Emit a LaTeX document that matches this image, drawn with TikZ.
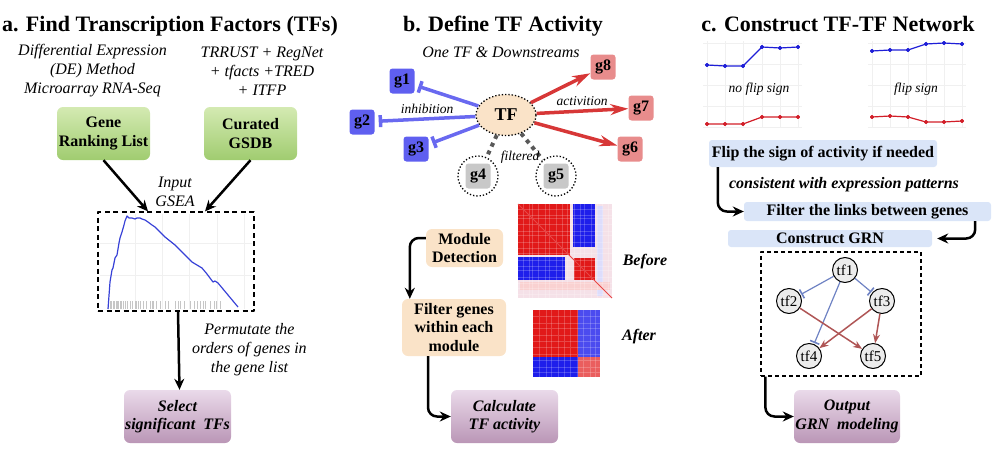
\documentclass[tikz,border=0pt]{standalone}
\usepackage{fontspec}
\setmainfont{Liberation Serif}
\usetikzlibrary{arrows.meta,shapes.geometric}
\definecolor{grtop}{RGB}{212,234,178}
\definecolor{grbot}{RGB}{160,204,112}
\definecolor{putop}{RGB}{234,218,234}
\definecolor{pubot}{RGB}{186,150,182}
\definecolor{peach}{RGB}{250,227,200}
\definecolor{sky}{RGB}{218,229,248}
\definecolor{genebl}{RGB}{95,95,240}
\definecolor{inblue}{RGB}{105,105,240}
\definecolor{genered}{RGB}{232,140,140}
\definecolor{acred}{RGB}{215,55,55}
\definecolor{genegr}{RGB}{200,200,200}
\definecolor{grnblue}{RGB}{110,130,195}
\definecolor{grnred}{RGB}{175,85,85}
\definecolor{plotblue}{RGB}{30,30,215}
\definecolor{plotred}{RGB}{210,30,40}
\definecolor{gseablue}{RGB}{55,65,215}
\definecolor{hmred}{RGB}{225,25,25}
\definecolor{hmblue}{RGB}{30,30,235}
\definecolor{hmpale}{RGB}{245,225,232}
\newcommand\titlefont{\fontsize{22}{26}\selectfont\bfseries}
\newcommand\boxfont{\fontsize{16}{18.5}\selectfont\bfseries}
\newcommand\notefont{\fontsize{16}{19}\selectfont\itshape}
\newcommand\smallnote{\fontsize{13.5}{16}\selectfont\itshape}
\begin{document}
\begin{tikzpicture}[x=1pt,y=-1pt,line join=round,
  title/.style={font=\titlefont,anchor=base},
  note/.style={font=\notefont,align=center},
  label/.style={font=\smallnote},
  greenbox/.style={rounded corners=6pt,top color=grtop,bottom color=grbot,font=\boxfont,align=center,minimum width=93pt,minimum height=53pt,inner sep=0pt},
  purplebox/.style={rounded corners=6pt,top color=putop,bottom color=pubot,font=\boxfont\itshape,align=center,minimum width=107pt,minimum height=53pt,inner sep=0pt},
  peachbox/.style={rounded corners=6pt,fill=peach,font=\boxfont,align=center,inner sep=0pt},
  skybox/.style={rounded corners=3pt,fill=sky,font=\boxfont,inner sep=0pt},
  flow/.style={-{Stealth[length=11pt,width=10pt]},line width=2.5pt,rounded corners=9pt},
  gene/.style={rounded corners=3pt,minimum size=25pt,inner sep=0pt,font=\boxfont},
  inhib/.style={-{Bar[width=12pt]},line width=3.5pt,draw=inblue,shorten >=4pt},
  activ/.style={-{Stealth[length=18pt,width=11pt]},line width=3.5pt,draw=acred},
  drop/.style={line width=4pt,draw=gray!70!black,dash pattern=on 4pt off 4.5pt},
  tfnode/.style={circle,draw,line width=1pt,fill=gray!15,minimum size=25pt,inner sep=0pt,font=\fontsize{15}{15}\selectfont},
  rep/.style={-{Bar[width=10pt,line width=1.6pt]},line width=1.2pt,draw=grnblue,shorten >=1pt},
  act/.style={-{Stealth[length=9pt,width=7pt]},line width=1.5pt,draw=grnred},
  gridline/.style={draw=gray!12,line width=0.6pt},
  plaid/.style={draw=white,opacity=0.2,line width=0.7pt}]
\useasboundingbox (0,0) rectangle (1006,466);

% a. find transcription factors
\node[title] (tta) at (170,31) {a. Find Transcription Factors (TFs)};
\node[note] (srcde) at (92.5,71) {Differential Expression\\(DE) Method\\Microarray RNA-Seq};
\node[note] (srcdb) at (262,71) {TRRUST + RegNet\\+ tfacts +TRED\\+ ITFP};
\node[greenbox] (rank) at (103.5,133.5) {Gene\\Ranking List};
\node[greenbox] (gsdb) at (250.5,133.5) {Curated\\GSDB};
\node[note] (input) at (175,192) {Input\\GSEA};
\foreach \x in {135,162,189,217,244} \draw[gridline] (\x,214) -- (\x,309);
\foreach \y in {243,275} \draw[gridline] (100,\y) -- (252,\y);
\foreach \x in {108,110,111,113,114,116,117,118,120,121,123,125,127,130,132,135,136,138,140,143,146,150,152,153,156,160,165,168,175,178,180,184,190,194,197,200,203,205,210,214,216,220}
  \draw[gray!45,line width=0.4pt] (\x,301) -- (\x,309);
\draw[gseablue,line width=1.2pt] plot coordinates {(108,309) (110,282) (112,270) (113,268) (115,258) (117,255) (119,243) (120,238) (122,232) (124,225) (125,221) (127,216) (129,218) (132,218) (135,219) (137,218) (140,218) (142,219) (145,220) (148,222) (152,225) (155,227) (160,232) (165,237) (170,241) (175,245) (179,249) (182,252) (187,257) (192,262) (197,265) (202,268) (207,274) (213,282) (215,281) (218,283) (228,295) (238,307)};
\node[draw,dash pattern=on 5pt off 3.5pt,line width=1.2pt,minimum width=156pt,minimum height=99pt,inner sep=0pt] (gsea) at (176,261.5) {};
\node[note] (perm) at (249.5,350) {Permutate the\\orders of genes in\\the gene list};
\node[purplebox] (select) at (177.5,416.5) {Select\\significant\ \ TFs};
\draw[flow] (rank.south) -- ([xshift=-28pt]gsea.north);
\draw[flow] (gsdb.south) -- ([xshift=29pt]gsea.north);
\draw[flow] ([xshift=2pt]gsea.south) -- ([xshift=2pt]select.north);

% b. define tf activity
\node[title] (ttb) at (503,31) {b. Define TF Activity};
\node[note] (down) at (501,52) {One TF \& Downstreams};
\node[ellipse,draw,dotted,line width=1.3pt,fill=peach,minimum width=60pt,minimum height=41pt,inner sep=0pt,font=\fontsize{18}{18}\selectfont\bfseries] (tf) at (506,115) {TF};
\node[gene,fill=genebl] (g1) at (402,81) {g1};
\node[gene,fill=genebl] (g2) at (362,122) {g2};
\node[gene,fill=genebl] (g3) at (416,149) {g3};
\node[gene,fill=genegr] (g4) at (478,176) {g4};
\node[gene,fill=genegr] (g5) at (556,176) {g5};
\node[gene,fill=genered] (g6) at (630,149) {g6};
\node[gene,fill=genered] (g7) at (641,108) {g7};
\node[gene,fill=genered] (g8) at (603,67) {g8};
\node[circle,draw,dotted,line width=1.3pt,minimum size=40pt] (c4) at (478,176) {};
\node[circle,draw,dotted,line width=1.3pt,minimum size=40pt] (c5) at (556,176) {};
\draw[inhib] (tf) -- (g1);
\draw[inhib] (tf) -- (g2);
\draw[inhib] (tf) -- (g3);
\draw[activ] (tf) -- (g8);
\draw[activ] (tf) -- (g7);
\draw[activ] (tf) -- (g6);
\draw[drop] (tf) -- (c4);
\draw[drop] (tf) -- (c5);
\node[label] (inh) at (427,109) {inhibition};
\node[label] (act) at (582,101) {activition};
\node[label] (filt) at (520,157) {filtered};
% heatmaps
\fill[hmpale] (518,204) rectangle (612,298);
\fill[hmred] (518,204) rectangle (570,255);
\fill[hmblue] (573,204) rectangle (595,247);
\fill[hmblue] (518,257) rectangle (565,280);
\fill[hmred] (574,258) rectangle (595,280);
\fill[hmblue!15] (597,206) rectangle (603,296);
\fill[hmred!20] (520,282) rectangle (610,290);
\foreach \t in {5,11,14,20,27,31,38,44,49,56,62,66,73,79,84,90}
  \draw[plaid] (518+\t,204) -- (518+\t,298) (518,204+\t) -- (612,204+\t);
\draw[hmred!80,line width=0.8pt] (518,204) -- (612,298);
\fill[hmred] (533,310) rectangle (578,357);
\fill[hmblue!80] (578,310) rectangle (600,357);
\fill[hmblue] (533,357) rectangle (578,377);
\fill[hmred!70] (578,357) rectangle (600,377);
\foreach \t in {6,13,18,25,31,37,44,50,57,62}
  \draw[plaid] (533+\t,310) -- (533+\t,377) (533,310+\t) -- (600,310+\t);
\node[font=\boxfont\itshape] (before) at (645,262) {Before};
\node[font=\boxfont\itshape] (after) at (639,337) {After};
\node[peachbox,minimum width=77pt,minimum height=38pt] (md) at (464.5,248) {Module\\Detection};
\node[peachbox,minimum width=104pt,minimum height=57pt] (fg) at (454,327.5) {Filter genes\\within each\\module};
\node[purplebox] (calc) at (504.5,416.5) {Calculate\\TF activity};
\draw[flow] ([yshift=10pt]md.west) -| ([xshift=8pt]fg.north west);
\draw[flow] ([xshift=-26pt]fg.south) |- (calc.west);

% c. construct tf-tf network
\node[title] (ttc) at (838,31) {c. Construct TF-TF Network};
\foreach \x in {707,725,743,762,780,798,872,890,908,926,944,962} \draw[gridline] (\x,41) -- (\x,128);
\foreach \y in {43,64,85,106,127} {
  \draw[gridline] (703,\y) -- (802,\y);
  \draw[gridline] (868,\y) -- (966,\y);
}
\draw[plotblue,line width=1.2pt] plot[mark=*,mark size=1.5pt] coordinates {(707,65) (725,66) (743,66) (762,47) (780,48) (798,47)};
\draw[plotred,line width=1.2pt] plot[mark=*,mark size=1.5pt] coordinates {(707,124) (725,124) (743,124) (762,117) (780,117) (798,117)};
\draw[plotblue,line width=1.2pt] plot[mark=*,mark size=1.5pt] coordinates {(872,51) (890,50) (908,50) (926,44) (944,43) (962,44)};
\draw[plotred,line width=1.2pt] plot[mark=*,mark size=1.5pt] coordinates {(872,117) (890,116) (908,117) (926,122) (944,122) (962,121)};
\node[label] (noflip) at (759,89) {no flip sign};
\node[label] (flip) at (916,89) {flip sign};
\node[skybox,minimum width=228pt,minimum height=27pt] (fs) at (823,153.5) {Flip the sign of activity if needed};
\node[font=\boxfont\itshape] (cons) at (844,185) {consistent with expression patterns};
\node[skybox,minimum width=247pt,minimum height=19pt] (fl) at (867.5,211.5) {Filter the links between genes};
\node[skybox,minimum width=204pt,minimum height=17pt] (cg) at (830,238.5) {Construct GRN};
\node[draw,dash pattern=on 4pt off 3pt,line width=1.2pt,minimum width=160pt,minimum height=124pt,inner sep=0pt] (grn) at (841,314) {};
\node[tfnode] (t1) at (845,270) {tf1};
\node[tfnode] (t2) at (789,301) {tf2};
\node[tfnode] (t3) at (882,301) {tf3};
\node[tfnode] (t4) at (809,356) {tf4};
\node[tfnode] (t5) at (873,356) {tf5};
\draw[rep] (t1) -- (t2);
\draw[rep] (t1) -- (t3);
\draw[rep] (t1) -- (t4);
\draw[act] (t2) -- (t5);
\draw[act] (t3) -- (t4);
\draw[act] (t3) -- (t5);
\node[purplebox,minimum width=106pt] (out) at (847,416.5) {Output\\GRN\ \ modeling};
\draw[flow] ([xshift=9pt]fs.south west) |- (fl.west);
\draw[flow] ([xshift=-16pt]fl.south east) |- ([xshift=5pt]cg.east);
\draw[flow] ([xshift=5pt]grn.south west) |- (out.west);
\end{tikzpicture}
\end{document}
